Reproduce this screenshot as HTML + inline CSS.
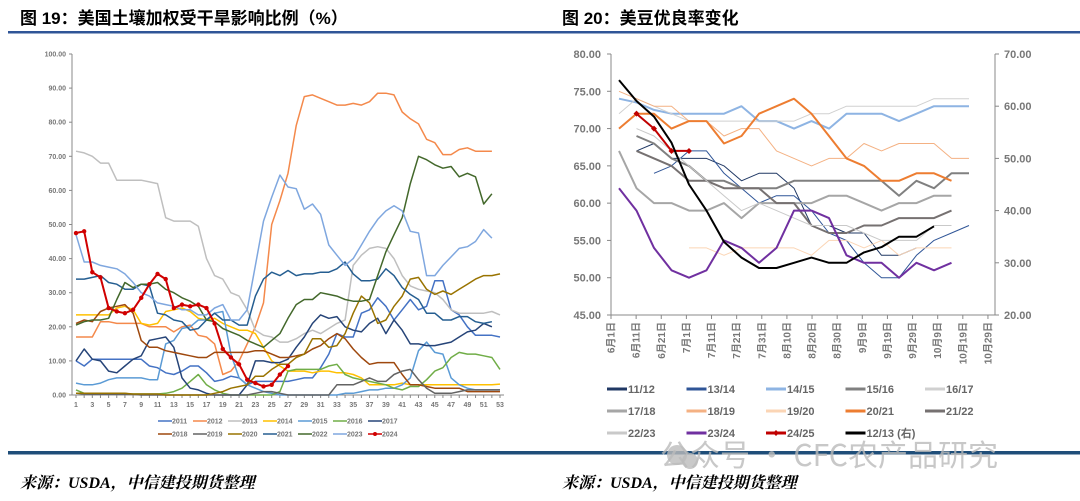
<!DOCTYPE html>
<html><head><meta charset="utf-8"><style>
body{margin:0;width:1080px;height:501px;background:#fff;overflow:hidden;font-family:"Liberation Sans","Noto Sans CJK SC",sans-serif}
svg{position:absolute;left:0;top:0}
</style></head><body>
<svg id="s" width="1080" height="501" xmlns="http://www.w3.org/2000/svg">
<text x="20" y="24" font-size="17" font-weight="bold" font-family="Liberation Sans,Noto Sans CJK SC,sans-serif">图 19：美国土壤加权受干旱影响比例（%）</text>
<text x="562" y="24" font-size="17" font-weight="bold" font-family="Liberation Sans,Noto Sans CJK SC,sans-serif">图 20：美豆优良率变化</text>
<rect x="8" y="31" width="1072" height="2.5" fill="#2F5597"/>
<rect x="8" y="451" width="1072" height="3.5" fill="#1F4E79"/>
<text x="660" y="466" font-size="30" fill="#bbb" opacity="0.8" font-family="Noto Sans CJK SC,sans-serif">公众号 · CFC农产品研究</text>
<circle cx="677" cy="455" r="10" fill="#bbb" opacity="0.8"/><circle cx="690" cy="461" r="8" fill="#bbb" opacity="0.8"/>
<text x="20" y="488" font-size="16" font-weight="bold" font-style="italic" font-family="Liberation Serif,Noto Serif CJK SC,serif">来源：USDA，中信建投期货整理</text>
<text x="562" y="488" font-size="16" font-weight="bold" font-style="italic" font-family="Liberation Serif,Noto Serif CJK SC,serif">来源：USDA，中信建投期货整理</text>
<g id="L"></g><g id="R"></g>
</svg>
<script>
var NS="http://www.w3.org/2000/svg";
function el(p,t,a,tx){var e=document.createElementNS(NS,t);for(var k in a)e.setAttribute(k,a[k]);if(tx!=null)e.textContent=tx;p.appendChild(e);return e;}
var L=document.getElementById('L'),R=document.getElementById('R');
// LEFT chart
function ly(v){return 395-v*3.41}
function lx(w){return 76+(w-1)*8.154}
el(L,'line',{x1:72,y1:54,x2:72,y2:395,stroke:'#888','stroke-width':1});
el(L,'line',{x1:72,y1:395,x2:504,y2:395,stroke:'#888','stroke-width':1});
for(var v=0;v<=100;v+=10){var y=ly(v);el(L,'line',{x1:69,y1:y,x2:72,y2:y,stroke:'#888'});el(L,'text',{x:66,y:y+2.5,'font-size':7,'font-weight':'bold',fill:'#777','text-anchor':'end'},v.toFixed(2));}
for(var w=1;w<=53;w++){var x=lx(w);el(L,'line',{x1:x,y1:395,x2:x,y2:398,stroke:'#888'});if(w%2)el(L,'text',{x:x,y:407,'font-size':7,'font-weight':'bold',fill:'#777','text-anchor':'middle'},w);}
var LS=[
['2011','#4472C4',[10,8.5,10.5,10.5,10.5,10.5,10.5,10.5,10.5,8.5,8,6.5,6,7,8.5,8.5,6.5,4,4.5,5.5,5,3,4,4,4,4,4,4.5,5,5,8,12,18,17,17,24,25,28.5,26,22,25,28,25,26,33.5,33.5,25,23.5,20,17.5,17.5,17.5,17]],
['2012','#F4894B',[17,17,17,21.5,21.5,21,21,21,21,20,20,20,18.5,20,20.5,17.5,17,15,6,7,10,15,20,27,50,57,65,79,87.5,88,87,86,85,85,85.5,85,86,88.5,88.5,88,83,81,79.5,75,74,70.5,70.5,72,72.5,71.5,71.5,71.5]],
['2013','#BFBFBF',[71.5,71,70,68,68,63,63,63,63,62.5,62,52,51,51,51,49.5,40,35,34,30,29,25,19,17.5,17,15.5,15.5,16.5,18,19,18,19.5,21,22,38,41,43,43.5,43,40,35,32,31,30.5,30,28,25,24,24,24,24,24.5,23.5]],
['2014','#FFC000',[23.5,23.5,23.5,23.5,23.5,25.5,26,25,21,20.5,21,24.5,25,25.5,24.5,22.5,22,22.5,21,20,19,19,18,14,10,8.5,7,7,7,6.5,7,7,6.5,6.5,6,5,3,3,3,3,3.5,3,3,3,3,3,3,3,3,3,3,3,3.2]],
['2015','#5B9BD5',[3.5,3,3,3.5,4.5,5,5,5,5,4.5,4.5,15,16,19.5,20,22,22,24,24.5,12,5,3,2,1,0.5,0,0,0,0,0,0,0,0,0.5,0.5,1,1.5,1.5,2,2,3,5,13,15.5,12.5,12,5,3,2,1.5,1.5,1.5,1.5]],
['2016','#70AD47',[1.5,0.5,0.4,0.4,0.3,0.3,0.3,0.3,0.3,0.3,0.3,0.5,1,2,4,6,3,1.5,0.5,0,0,0,0,0,0,1,7,7.5,7.5,7.5,7.5,8.5,9,6,5,4.5,4,3.5,3,2,1.5,2.5,2.5,4.5,7,8,11,12.5,12,12,11.5,11,7.5]],
['2017','#264478',[10,13.5,10.5,10,7,6.5,8.5,10.5,11.5,16,16.5,17,14,5,2,1.5,0.5,0,0,0,0,3,10,10,9.5,9.5,10.5,14,17,21,23.5,22.5,23,20,19,18.5,21,22.5,18,22,19,15,15,14.5,14.5,15,15.5,17,18.5,19,21,20]],
['2018','#9E480E',[21,22,21.5,24.5,25.5,26,26.5,24,16,14,14,13,12.5,12,11.5,11,11,12.5,12.5,12.5,12.5,12.5,13,13,12,11,11,11.5,12,13.5,14.5,16.5,18,16.5,13.5,11,9,9.5,9.5,9.5,6,3,3,2.5,2,2,2,2,1,1,1,1,1]],
['2019','#636363',[0.5,0.3,0.2,0.2,0.2,0.2,0.2,0.2,0,0,0,0,0,0,0,0,0,0,0,0,0,0,0.5,1,1,0.5,0,0,0,0,0,0,3,3,3,4,5,4,4,6,7,7.5,4.5,2,0.5,0.5,0.5,1,1.5,1.5,1.5,1.5,1.5]],
['2020','#997300',[0.5,0.5,0.5,0.5,0.5,0.5,0.5,0.3,0.3,0.3,0.3,0,0,0,0,0,0,0.5,1,2,2.5,3,5.5,5.5,7.5,9,9,11,12,16.5,16.5,14,14.5,18,24,29,27,21,22,26,29,34,34.5,31,29.5,30.5,29.5,31,32.5,34,35,35,35.5]],
['2021','#255E91',[34,34,34.5,35,33,32.5,31,31,32.5,32,24,23.5,22,21.5,19,19.5,22,24,22,22,20.5,20.5,29,34,36,35,36.5,35,35.5,35.5,36,36,37,39,35.5,33.5,33.5,34,37,35,31.5,29.5,28,24,24,22,22,23,23,21.5,21,21.5]],
['2022','#43682B',[20.5,21.5,22,22,22.5,28,33,31.5,32.5,32.5,33,31,30,28.5,27.5,26,22,21.5,19.5,18.5,17.5,16,15,14,16,18,22.5,26.5,28,28,30,29.5,29,28,27.5,27.5,28,35,42,47,52,62,70,69,67.5,66.5,67,64,65,64,56,59]],
['2023','#7FA7DF',[47,39,39,38,37.5,37,35.5,33,30,29,27,26.5,26,25,25,23.5,23.5,25.5,26.5,22,22,25,38,51,58,64.5,61,60.5,54.5,56,53,44,41,38,40,44,48,51.5,54,55.5,54,48,47.5,35,35,38,40.5,43,43.5,45,48.5,46]],
['2024','#D00000',[47.5,48,36,34.5,25.5,24.5,24,25,28.5,32.5,35.5,34,25.5,26.5,26,26.5,25.5,21,13.5,11,9,4.5,3.5,2.5,3,6,8.5]]
];
LS.forEach(function(s,i){var p=s[2].map(function(v,j){return lx(j+1).toFixed(1)+','+ly(v).toFixed(1)}).join(' ');
el(L,'polyline',{points:p,fill:'none',stroke:s[1],'stroke-width':s[0]=='2024'?2:1.5,'stroke-linejoin':'round'});
if(s[0]=='2024')s[2].forEach(function(v,j){el(L,'circle',{cx:lx(j+1),cy:ly(v),r:2.2,fill:s[1]})});
var r=i<7?0:1,c=i%7,x=158+c*35,y=421+r*13;
el(L,'line',{x1:x,y1:y,x2:x+14,y2:y,stroke:s[1],'stroke-width':1.5});
if(s[0]=='2024')el(L,'circle',{cx:x+7,cy:y,r:2,fill:s[1]});
el(L,'text',{x:x+14,y:y+2.5,'font-size':7,'font-weight':'bold',fill:'#777'},s[0]);});
// RIGHT chart
function ry(v){return 54+(80-v)*7.457}
function ry2(v){return 54+(70-v)*5.22}
function rx(k){return 619+k*17.5}
el(R,'line',{x1:611,y1:54,x2:611,y2:315,stroke:'#888'});
el(R,'line',{x1:995,y1:54,x2:995,y2:315,stroke:'#888'});
el(R,'line',{x1:611,y1:315,x2:995,y2:315,stroke:'#888'});
for(var v=45;v<=80;v+=5){var y=ry(v);el(R,'line',{x1:607,y1:y,x2:611,y2:y,stroke:'#888'});el(R,'text',{x:601,y:y+4,'font-size':11,'font-weight':'bold',fill:'#777','text-anchor':'end'},v.toFixed(2));}
for(var v=20;v<=70;v+=10){var y=ry2(v);el(R,'line',{x1:995,y1:y,x2:999,y2:y,stroke:'#888'});el(R,'text',{x:1004,y:y+4,'font-size':11,'font-weight':'bold',fill:'#777'},v.toFixed(2));}
var D=['6月1日','6月11日','6月21日','7月1日','7月11日','7月21日','7月31日','8月10日','8月20日','8月30日','9月9日','9月19日','9月29日','10月9日','10月19日','10月29日'];
D.forEach(function(d,i){var x=611+i*25.13;el(R,'line',{x1:x,y1:315,x2:x,y2:319,stroke:'#888'});
el(R,'text',{x:0,y:0,'font-size':10,'font-weight':'bold',fill:'#777','text-anchor':'end',transform:'translate('+(x+3.5)+',322) rotate(-90)'},d);});
var RS=[
['11/12','#203864',1,[null,67,68,66,66,66,65,63,64,64,62,57,57,56,56,53,53,54]],
['13/14','#2F5597',1,[null,null,64,65,67,67,64,62,60,61,61,59,56,55,52,50,50,53,55,56,57]],
['14/15','#8EB4E3',2,[74,73.5,72.5,72,72,72,72,73,71,71,70,71,70,72,72,72,71,72,73,73,73]],
['15/16','#808080',2,[null,69,68,66,65,63,63,62,62,62,63,63,63,63,63,63,61,63,62,64,64]],
['16/17','#D0D0D0',1,[72,74,73,72,71,71,71,71,71,71,71,72,72,73,73,73,73,73,74,74,74]],
['17/18','#A6A6A6',2,[67,62,60,60,59,59,60,58,60,60,60,60,61,61,60,59,60,60,61,61]],
['18/19','#F4B183',1,[75,74,73,73,71,71,69,70,70,67,66,65,66,66,68,67,68,68,68,66,66]],
['19/20','#FBD5B5',1,[null,null,null,null,54,54,53,54,54,54,54,53,55,55,54,55,53,54,54,54]],
['20/21','#ED7D31',2,[70,72,72,70,71,71,68,69,72,73,74,72,69,66,65,63,63,64,64,63]],
['21/22','#767171',2,[null,67,66,65,63,63,62,62,62,60,60,57,56,56,57,57,58,58,58,59]],
['22/23','#C9C9C9',1,[null,70,69,67,65,63,61,59,60,59,58,57,57,57,56,55,55,55,57,57]],
['23/24','#7030A0',2,[62,59,54,51,50,51,55,54,52,54,59,59,58,53,52,52,50,52,51,52]],
['24/25','#C00000',2,[null,72,70,67,67]],
['12/13 (右)','#000000',2,[65,61,58,53,45,40,34,31,29,29,30,31,30,30,32,33,35,35,37]]
];
RS.forEach(function(s,i){var right=s[0].indexOf('右')>=0;var pts=[];
s[3].forEach(function(v,k){if(v!=null)pts.push(rx(k).toFixed(1)+','+(right?ry2(v):ry(v)).toFixed(1))});
el(R,'polyline',{points:pts.join(' '),fill:'none',stroke:s[1],'stroke-width':s[2],'stroke-linejoin':'round'});
if(s[0]=='24/25')s[3].forEach(function(v,k){if(v!=null)el(R,'path',{d:'M'+(rx(k)-3)+' '+ry(v)+'l3 -3l3 3l-3 3z',fill:s[1]})});
var r=Math.floor(i/5),c=i%5,x=607+c*79.5,y=389+r*22;
el(R,'line',{x1:x,y1:y,x2:x+20,y2:y,stroke:s[1],'stroke-width':3});
if(s[0]=='24/25')el(R,'path',{d:'M'+(x+7)+' '+y+'l3 -3l3 3l-3 3z',fill:s[1]});
el(R,'text',{x:x+21,y:y+4,'font-size':11,'font-weight':'bold',fill:'#666'},s[0].replace(' ','  '));});
</script>
</body></html>
